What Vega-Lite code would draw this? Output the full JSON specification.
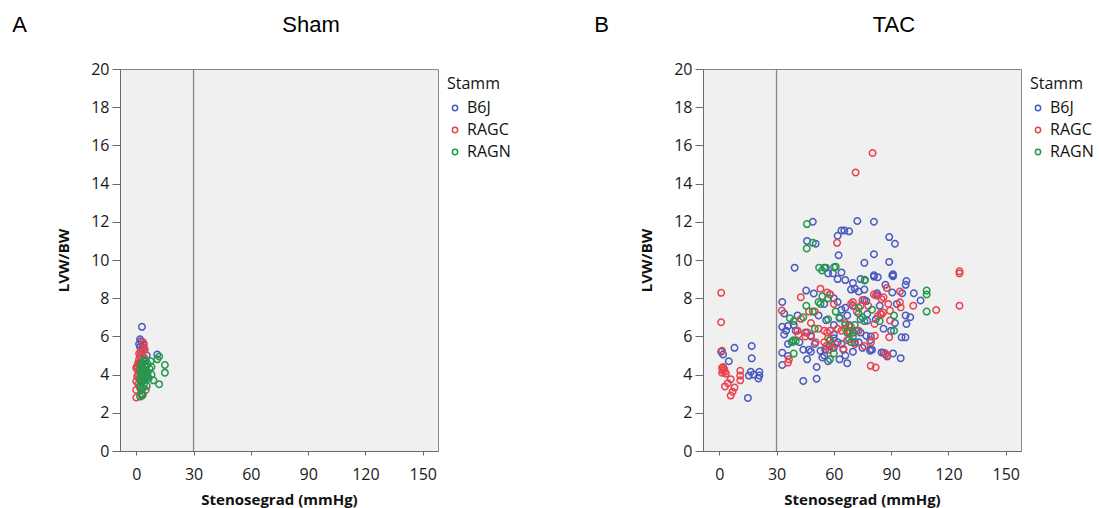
{
  "$schema": "https://vega.github.io/schema/vega-lite/v6.json",
  "background": "white",
  "padding": {"left": 12, "top": 13, "right": 5, "bottom": 0},
  "config": {
    "font": "Open Sans",
    "view": {"fill": "#f0f0f0", "stroke": "#8a8a8a", "strokeWidth": 1},
    "axis": {
      "grid": false,
      "domainColor": "#6a6a6a",
      "tickColor": "#6a6a6a",
      "labelFont": "Open Sans",
      "labelFontSize": 16,
      "labelColor": "#1a1a1a",
      "titleFont": "Open Sans",
      "titleFontSize": 15,
      "titleFontWeight": "bold",
      "titleColor": "#111111"
    },
    "axisX": {"tickSize": 4, "labelPadding": 11, "titlePadding": 10},
    "axisY": {"tickSize": 8, "labelPadding": 3, "titlePadding": 19},
    "legend": {
      "titleFont": "Open Sans",
      "titleFontWeight": "normal",
      "titleFontSize": 16,
      "titleColor": "#111111",
      "labelFont": "Open Sans",
      "labelFontSize": 16,
      "labelColor": "#111111",
      "symbolType": "circle",
      "symbolSize": 28,
      "symbolStrokeWidth": 1.5,
      "rowPadding": 6,
      "titlePadding": 8,
      "padding": 7,
      "offset": 1
    },
    "title": {"font": "Liberation Sans", "fontSize": 22, "fontWeight": "normal", "color": "#000000", "offset": 24}
  },
  "datasets": {
    "sham": [
      {"Stamm": "B6J", "Stenosegrad": 3, "LVW_BW": 6.5},
      {"Stamm": "B6J", "Stenosegrad": 2, "LVW_BW": 5.85},
      {"Stamm": "B6J", "Stenosegrad": 2.5, "LVW_BW": 5.75},
      {"Stamm": "B6J", "Stenosegrad": 1.5, "LVW_BW": 5.6},
      {"Stamm": "B6J", "Stenosegrad": 3.5, "LVW_BW": 5.55},
      {"Stamm": "B6J", "Stenosegrad": 2, "LVW_BW": 5.45},
      {"Stamm": "B6J", "Stenosegrad": 4, "LVW_BW": 5.4},
      {"Stamm": "B6J", "Stenosegrad": 11, "LVW_BW": 5.05},
      {"Stamm": "B6J", "Stenosegrad": 3, "LVW_BW": 5.3},
      {"Stamm": "B6J", "Stenosegrad": 2.5, "LVW_BW": 4.9},
      {"Stamm": "B6J", "Stenosegrad": 4.5, "LVW_BW": 4.7},
      {"Stamm": "B6J", "Stenosegrad": 5, "LVW_BW": 4.4},
      {"Stamm": "B6J", "Stenosegrad": 3, "LVW_BW": 4.2},
      {"Stamm": "B6J", "Stenosegrad": 6, "LVW_BW": 3.9},
      {"Stamm": "B6J", "Stenosegrad": 4, "LVW_BW": 3.7},
      {"Stamm": "B6J", "Stenosegrad": 2, "LVW_BW": 4.6},
      {"Stamm": "B6J", "Stenosegrad": 5.5, "LVW_BW": 5.0},
      {"Stamm": "RAGC", "Stenosegrad": 0, "LVW_BW": 2.8},
      {"Stamm": "RAGC", "Stenosegrad": 0, "LVW_BW": 3.2},
      {"Stamm": "RAGC", "Stenosegrad": 0, "LVW_BW": 3.65},
      {"Stamm": "RAGC", "Stenosegrad": 0.5, "LVW_BW": 3.9},
      {"Stamm": "RAGC", "Stenosegrad": 1, "LVW_BW": 4.2},
      {"Stamm": "RAGC", "Stenosegrad": 0, "LVW_BW": 4.35},
      {"Stamm": "RAGC", "Stenosegrad": 0.5, "LVW_BW": 4.45},
      {"Stamm": "RAGC", "Stenosegrad": 1, "LVW_BW": 4.6},
      {"Stamm": "RAGC", "Stenosegrad": 1.5, "LVW_BW": 4.8},
      {"Stamm": "RAGC", "Stenosegrad": 2, "LVW_BW": 5.0},
      {"Stamm": "RAGC", "Stenosegrad": 1.5, "LVW_BW": 5.1},
      {"Stamm": "RAGC", "Stenosegrad": 2.5, "LVW_BW": 5.2},
      {"Stamm": "RAGC", "Stenosegrad": 3.5, "LVW_BW": 5.25},
      {"Stamm": "RAGC", "Stenosegrad": 4.5, "LVW_BW": 5.3},
      {"Stamm": "RAGC", "Stenosegrad": 4, "LVW_BW": 5.6},
      {"Stamm": "RAGC", "Stenosegrad": 3.5, "LVW_BW": 5.7},
      {"Stamm": "RAGC", "Stenosegrad": 2, "LVW_BW": 4.1},
      {"Stamm": "RAGC", "Stenosegrad": 1, "LVW_BW": 3.5},
      {"Stamm": "RAGC", "Stenosegrad": 2, "LVW_BW": 3.3},
      {"Stamm": "RAGC", "Stenosegrad": 3, "LVW_BW": 3.0},
      {"Stamm": "RAGC", "Stenosegrad": 2.5, "LVW_BW": 3.6},
      {"Stamm": "RAGC", "Stenosegrad": 1.5, "LVW_BW": 3.8},
      {"Stamm": "RAGC", "Stenosegrad": 3, "LVW_BW": 4.4},
      {"Stamm": "RAGC", "Stenosegrad": 4, "LVW_BW": 4.9},
      {"Stamm": "RAGC", "Stenosegrad": 2.5, "LVW_BW": 4.5},
      {"Stamm": "RAGC", "Stenosegrad": 5, "LVW_BW": 3.2},
      {"Stamm": "RAGC", "Stenosegrad": 0.5, "LVW_BW": 4.3},
      {"Stamm": "RAGC", "Stenosegrad": 1, "LVW_BW": 4.0},
      {"Stamm": "RAGC", "Stenosegrad": 3, "LVW_BW": 2.9},
      {"Stamm": "RAGC", "Stenosegrad": 1.5, "LVW_BW": 4.5},
      {"Stamm": "RAGN", "Stenosegrad": 2, "LVW_BW": 2.85},
      {"Stamm": "RAGN", "Stenosegrad": 3, "LVW_BW": 3.0},
      {"Stamm": "RAGN", "Stenosegrad": 2.5, "LVW_BW": 3.2},
      {"Stamm": "RAGN", "Stenosegrad": 3.5, "LVW_BW": 3.3},
      {"Stamm": "RAGN", "Stenosegrad": 2, "LVW_BW": 3.4},
      {"Stamm": "RAGN", "Stenosegrad": 4, "LVW_BW": 3.5},
      {"Stamm": "RAGN", "Stenosegrad": 3, "LVW_BW": 3.6},
      {"Stamm": "RAGN", "Stenosegrad": 2, "LVW_BW": 3.7},
      {"Stamm": "RAGN", "Stenosegrad": 4.5, "LVW_BW": 3.75},
      {"Stamm": "RAGN", "Stenosegrad": 3, "LVW_BW": 3.85},
      {"Stamm": "RAGN", "Stenosegrad": 5, "LVW_BW": 3.9},
      {"Stamm": "RAGN", "Stenosegrad": 2.5, "LVW_BW": 4.0},
      {"Stamm": "RAGN", "Stenosegrad": 4, "LVW_BW": 4.05},
      {"Stamm": "RAGN", "Stenosegrad": 6, "LVW_BW": 4.1},
      {"Stamm": "RAGN", "Stenosegrad": 3, "LVW_BW": 4.15},
      {"Stamm": "RAGN", "Stenosegrad": 5, "LVW_BW": 4.2},
      {"Stamm": "RAGN", "Stenosegrad": 2, "LVW_BW": 4.25},
      {"Stamm": "RAGN", "Stenosegrad": 7, "LVW_BW": 4.3},
      {"Stamm": "RAGN", "Stenosegrad": 3.5, "LVW_BW": 4.35},
      {"Stamm": "RAGN", "Stenosegrad": 8, "LVW_BW": 4.4},
      {"Stamm": "RAGN", "Stenosegrad": 4.5, "LVW_BW": 4.45},
      {"Stamm": "RAGN", "Stenosegrad": 2.5, "LVW_BW": 4.5},
      {"Stamm": "RAGN", "Stenosegrad": 6, "LVW_BW": 4.55},
      {"Stamm": "RAGN", "Stenosegrad": 3, "LVW_BW": 4.6},
      {"Stamm": "RAGN", "Stenosegrad": 7.5, "LVW_BW": 4.7},
      {"Stamm": "RAGN", "Stenosegrad": 5, "LVW_BW": 4.75},
      {"Stamm": "RAGN", "Stenosegrad": 4, "LVW_BW": 4.8},
      {"Stamm": "RAGN", "Stenosegrad": 9, "LVW_BW": 3.7},
      {"Stamm": "RAGN", "Stenosegrad": 12, "LVW_BW": 3.5},
      {"Stamm": "RAGN", "Stenosegrad": 12, "LVW_BW": 4.95},
      {"Stamm": "RAGN", "Stenosegrad": 11, "LVW_BW": 4.8},
      {"Stamm": "RAGN", "Stenosegrad": 15, "LVW_BW": 4.5},
      {"Stamm": "RAGN", "Stenosegrad": 15, "LVW_BW": 4.1},
      {"Stamm": "RAGN", "Stenosegrad": 6.5, "LVW_BW": 3.8},
      {"Stamm": "RAGN", "Stenosegrad": 8, "LVW_BW": 4.0},
      {"Stamm": "RAGN", "Stenosegrad": 3.5, "LVW_BW": 2.95},
      {"Stamm": "RAGN", "Stenosegrad": 5.5, "LVW_BW": 3.4}
    ],
    "tac": [
      {"Stamm": "B6J", "Stenosegrad": 1, "LVW_BW": 5.2},
      {"Stamm": "B6J", "Stenosegrad": 2, "LVW_BW": 5.05},
      {"Stamm": "B6J", "Stenosegrad": 8, "LVW_BW": 5.4},
      {"Stamm": "B6J", "Stenosegrad": 17, "LVW_BW": 5.5},
      {"Stamm": "B6J", "Stenosegrad": 17, "LVW_BW": 4.85},
      {"Stamm": "B6J", "Stenosegrad": 5, "LVW_BW": 4.7},
      {"Stamm": "B6J", "Stenosegrad": 16.5, "LVW_BW": 4.15},
      {"Stamm": "B6J", "Stenosegrad": 15.5, "LVW_BW": 3.95},
      {"Stamm": "B6J", "Stenosegrad": 21, "LVW_BW": 4.15},
      {"Stamm": "B6J", "Stenosegrad": 21, "LVW_BW": 3.95},
      {"Stamm": "B6J", "Stenosegrad": 20.5, "LVW_BW": 3.8},
      {"Stamm": "B6J", "Stenosegrad": 15, "LVW_BW": 2.78},
      {"Stamm": "B6J", "Stenosegrad": 18, "LVW_BW": 4.0},
      {"Stamm": "B6J", "Stenosegrad": 33, "LVW_BW": 7.8},
      {"Stamm": "B6J", "Stenosegrad": 33, "LVW_BW": 6.5},
      {"Stamm": "B6J", "Stenosegrad": 34, "LVW_BW": 6.1},
      {"Stamm": "B6J", "Stenosegrad": 35, "LVW_BW": 6.3},
      {"Stamm": "B6J", "Stenosegrad": 36, "LVW_BW": 6.55},
      {"Stamm": "B6J", "Stenosegrad": 33, "LVW_BW": 5.15},
      {"Stamm": "B6J", "Stenosegrad": 36, "LVW_BW": 4.98},
      {"Stamm": "B6J", "Stenosegrad": 33, "LVW_BW": 4.5},
      {"Stamm": "B6J", "Stenosegrad": 34, "LVW_BW": 7.2},
      {"Stamm": "B6J", "Stenosegrad": 39.5, "LVW_BW": 9.6},
      {"Stamm": "B6J", "Stenosegrad": 45.5, "LVW_BW": 8.4},
      {"Stamm": "B6J", "Stenosegrad": 49.5, "LVW_BW": 8.25},
      {"Stamm": "B6J", "Stenosegrad": 46, "LVW_BW": 11.0},
      {"Stamm": "B6J", "Stenosegrad": 49, "LVW_BW": 12.0},
      {"Stamm": "B6J", "Stenosegrad": 50.5, "LVW_BW": 10.85},
      {"Stamm": "B6J", "Stenosegrad": 44, "LVW_BW": 3.67},
      {"Stamm": "B6J", "Stenosegrad": 51, "LVW_BW": 3.78},
      {"Stamm": "B6J", "Stenosegrad": 62.5, "LVW_BW": 10.25},
      {"Stamm": "B6J", "Stenosegrad": 64, "LVW_BW": 11.55},
      {"Stamm": "B6J", "Stenosegrad": 62, "LVW_BW": 11.27},
      {"Stamm": "B6J", "Stenosegrad": 65.5, "LVW_BW": 11.55},
      {"Stamm": "B6J", "Stenosegrad": 68, "LVW_BW": 11.5},
      {"Stamm": "B6J", "Stenosegrad": 72.3, "LVW_BW": 12.04},
      {"Stamm": "B6J", "Stenosegrad": 81, "LVW_BW": 12.0},
      {"Stamm": "B6J", "Stenosegrad": 89, "LVW_BW": 11.2},
      {"Stamm": "B6J", "Stenosegrad": 92, "LVW_BW": 10.85},
      {"Stamm": "B6J", "Stenosegrad": 81, "LVW_BW": 10.3},
      {"Stamm": "B6J", "Stenosegrad": 76, "LVW_BW": 9.85},
      {"Stamm": "B6J", "Stenosegrad": 89, "LVW_BW": 9.9},
      {"Stamm": "B6J", "Stenosegrad": 81, "LVW_BW": 9.2},
      {"Stamm": "B6J", "Stenosegrad": 91, "LVW_BW": 9.25},
      {"Stamm": "B6J", "Stenosegrad": 57, "LVW_BW": 9.3},
      {"Stamm": "B6J", "Stenosegrad": 59.5, "LVW_BW": 9.3},
      {"Stamm": "B6J", "Stenosegrad": 62, "LVW_BW": 9.0},
      {"Stamm": "B6J", "Stenosegrad": 64, "LVW_BW": 9.35},
      {"Stamm": "B6J", "Stenosegrad": 66, "LVW_BW": 8.95},
      {"Stamm": "B6J", "Stenosegrad": 55.8, "LVW_BW": 9.6},
      {"Stamm": "B6J", "Stenosegrad": 69, "LVW_BW": 8.45},
      {"Stamm": "B6J", "Stenosegrad": 71, "LVW_BW": 8.5},
      {"Stamm": "B6J", "Stenosegrad": 73, "LVW_BW": 8.35},
      {"Stamm": "B6J", "Stenosegrad": 76, "LVW_BW": 8.45},
      {"Stamm": "B6J", "Stenosegrad": 76, "LVW_BW": 7.9},
      {"Stamm": "B6J", "Stenosegrad": 77, "LVW_BW": 7.85},
      {"Stamm": "B6J", "Stenosegrad": 81, "LVW_BW": 9.13},
      {"Stamm": "B6J", "Stenosegrad": 90.6, "LVW_BW": 9.2},
      {"Stamm": "B6J", "Stenosegrad": 91, "LVW_BW": 9.15},
      {"Stamm": "B6J", "Stenosegrad": 97.6, "LVW_BW": 8.7},
      {"Stamm": "B6J", "Stenosegrad": 98, "LVW_BW": 8.9},
      {"Stamm": "B6J", "Stenosegrad": 90.6, "LVW_BW": 8.3},
      {"Stamm": "B6J", "Stenosegrad": 95.8, "LVW_BW": 8.26},
      {"Stamm": "B6J", "Stenosegrad": 82.6, "LVW_BW": 8.26},
      {"Stamm": "B6J", "Stenosegrad": 83, "LVW_BW": 8.14},
      {"Stamm": "B6J", "Stenosegrad": 101.9, "LVW_BW": 8.26},
      {"Stamm": "B6J", "Stenosegrad": 105.4, "LVW_BW": 7.88},
      {"Stamm": "B6J", "Stenosegrad": 97.6, "LVW_BW": 7.1},
      {"Stamm": "B6J", "Stenosegrad": 98, "LVW_BW": 6.65},
      {"Stamm": "B6J", "Stenosegrad": 92, "LVW_BW": 6.7},
      {"Stamm": "B6J", "Stenosegrad": 95.5, "LVW_BW": 5.95},
      {"Stamm": "B6J", "Stenosegrad": 97.5, "LVW_BW": 5.95},
      {"Stamm": "B6J", "Stenosegrad": 79.4, "LVW_BW": 6.0},
      {"Stamm": "B6J", "Stenosegrad": 79.4, "LVW_BW": 5.33},
      {"Stamm": "B6J", "Stenosegrad": 79, "LVW_BW": 5.25},
      {"Stamm": "B6J", "Stenosegrad": 85, "LVW_BW": 5.16},
      {"Stamm": "B6J", "Stenosegrad": 87, "LVW_BW": 5.07},
      {"Stamm": "B6J", "Stenosegrad": 91, "LVW_BW": 5.11},
      {"Stamm": "B6J", "Stenosegrad": 95, "LVW_BW": 4.86},
      {"Stamm": "B6J", "Stenosegrad": 77.5, "LVW_BW": 7.17},
      {"Stamm": "B6J", "Stenosegrad": 77.5, "LVW_BW": 6.82},
      {"Stamm": "B6J", "Stenosegrad": 77, "LVW_BW": 6.04},
      {"Stamm": "B6J", "Stenosegrad": 55, "LVW_BW": 7.7},
      {"Stamm": "B6J", "Stenosegrad": 62, "LVW_BW": 7.8},
      {"Stamm": "B6J", "Stenosegrad": 66, "LVW_BW": 7.5},
      {"Stamm": "B6J", "Stenosegrad": 70, "LVW_BW": 7.6},
      {"Stamm": "B6J", "Stenosegrad": 56, "LVW_BW": 6.85},
      {"Stamm": "B6J", "Stenosegrad": 60, "LVW_BW": 6.6},
      {"Stamm": "B6J", "Stenosegrad": 63, "LVW_BW": 6.95},
      {"Stamm": "B6J", "Stenosegrad": 67, "LVW_BW": 7.1},
      {"Stamm": "B6J", "Stenosegrad": 42, "LVW_BW": 5.7},
      {"Stamm": "B6J", "Stenosegrad": 44, "LVW_BW": 5.3},
      {"Stamm": "B6J", "Stenosegrad": 47, "LVW_BW": 5.3},
      {"Stamm": "B6J", "Stenosegrad": 50, "LVW_BW": 5.6},
      {"Stamm": "B6J", "Stenosegrad": 53, "LVW_BW": 5.25},
      {"Stamm": "B6J", "Stenosegrad": 55.5, "LVW_BW": 5.3},
      {"Stamm": "B6J", "Stenosegrad": 60, "LVW_BW": 5.9},
      {"Stamm": "B6J", "Stenosegrad": 62, "LVW_BW": 5.7},
      {"Stamm": "B6J", "Stenosegrad": 64, "LVW_BW": 5.6},
      {"Stamm": "B6J", "Stenosegrad": 65, "LVW_BW": 5.3},
      {"Stamm": "B6J", "Stenosegrad": 66, "LVW_BW": 5.0},
      {"Stamm": "B6J", "Stenosegrad": 67, "LVW_BW": 4.6},
      {"Stamm": "B6J", "Stenosegrad": 63, "LVW_BW": 4.8},
      {"Stamm": "B6J", "Stenosegrad": 60, "LVW_BW": 5.4},
      {"Stamm": "B6J", "Stenosegrad": 68, "LVW_BW": 5.85},
      {"Stamm": "B6J", "Stenosegrad": 71, "LVW_BW": 5.7},
      {"Stamm": "B6J", "Stenosegrad": 73, "LVW_BW": 5.7},
      {"Stamm": "B6J", "Stenosegrad": 72, "LVW_BW": 6.3},
      {"Stamm": "B6J", "Stenosegrad": 74, "LVW_BW": 6.2},
      {"Stamm": "B6J", "Stenosegrad": 79, "LVW_BW": 5.8},
      {"Stamm": "B6J", "Stenosegrad": 80, "LVW_BW": 5.3},
      {"Stamm": "B6J", "Stenosegrad": 86, "LVW_BW": 5.15},
      {"Stamm": "B6J", "Stenosegrad": 88, "LVW_BW": 4.95},
      {"Stamm": "B6J", "Stenosegrad": 51, "LVW_BW": 4.4},
      {"Stamm": "B6J", "Stenosegrad": 54, "LVW_BW": 4.9},
      {"Stamm": "B6J", "Stenosegrad": 55, "LVW_BW": 5.0},
      {"Stamm": "B6J", "Stenosegrad": 58, "LVW_BW": 5.5},
      {"Stamm": "B6J", "Stenosegrad": 48, "LVW_BW": 6.0},
      {"Stamm": "B6J", "Stenosegrad": 46, "LVW_BW": 6.2},
      {"Stamm": "B6J", "Stenosegrad": 40, "LVW_BW": 6.3},
      {"Stamm": "B6J", "Stenosegrad": 60, "LVW_BW": 8.0},
      {"Stamm": "B6J", "Stenosegrad": 64, "LVW_BW": 7.4},
      {"Stamm": "B6J", "Stenosegrad": 68, "LVW_BW": 6.6},
      {"Stamm": "B6J", "Stenosegrad": 70, "LVW_BW": 5.2},
      {"Stamm": "B6J", "Stenosegrad": 57, "LVW_BW": 4.7},
      {"Stamm": "B6J", "Stenosegrad": 60, "LVW_BW": 6.1},
      {"Stamm": "B6J", "Stenosegrad": 84, "LVW_BW": 7.6},
      {"Stamm": "B6J", "Stenosegrad": 86, "LVW_BW": 6.4},
      {"Stamm": "B6J", "Stenosegrad": 90, "LVW_BW": 6.3},
      {"Stamm": "B6J", "Stenosegrad": 82, "LVW_BW": 6.9},
      {"Stamm": "B6J", "Stenosegrad": 100, "LVW_BW": 7.0},
      {"Stamm": "B6J", "Stenosegrad": 93, "LVW_BW": 7.7},
      {"Stamm": "B6J", "Stenosegrad": 87, "LVW_BW": 8.7},
      {"Stamm": "B6J", "Stenosegrad": 83, "LVW_BW": 9.1},
      {"Stamm": "B6J", "Stenosegrad": 74, "LVW_BW": 9.0},
      {"Stamm": "B6J", "Stenosegrad": 70, "LVW_BW": 8.8},
      {"Stamm": "B6J", "Stenosegrad": 58, "LVW_BW": 8.2},
      {"Stamm": "B6J", "Stenosegrad": 52, "LVW_BW": 7.1},
      {"Stamm": "B6J", "Stenosegrad": 41, "LVW_BW": 7.1},
      {"Stamm": "B6J", "Stenosegrad": 38, "LVW_BW": 5.7},
      {"Stamm": "B6J", "Stenosegrad": 46, "LVW_BW": 4.8},
      {"Stamm": "B6J", "Stenosegrad": 48, "LVW_BW": 5.2},
      {"Stamm": "B6J", "Stenosegrad": 36, "LVW_BW": 5.6},
      {"Stamm": "B6J", "Stenosegrad": 39, "LVW_BW": 6.6},
      {"Stamm": "B6J", "Stenosegrad": 74, "LVW_BW": 6.9},
      {"Stamm": "B6J", "Stenosegrad": 75, "LVW_BW": 5.4},
      {"Stamm": "RAGC", "Stenosegrad": 1, "LVW_BW": 8.28},
      {"Stamm": "RAGC", "Stenosegrad": 1, "LVW_BW": 6.74},
      {"Stamm": "RAGC", "Stenosegrad": 1.5, "LVW_BW": 5.25},
      {"Stamm": "RAGC", "Stenosegrad": 1.5, "LVW_BW": 4.35},
      {"Stamm": "RAGC", "Stenosegrad": 2, "LVW_BW": 4.2},
      {"Stamm": "RAGC", "Stenosegrad": 2.5, "LVW_BW": 4.3},
      {"Stamm": "RAGC", "Stenosegrad": 3, "LVW_BW": 4.15},
      {"Stamm": "RAGC", "Stenosegrad": 1.5, "LVW_BW": 4.1},
      {"Stamm": "RAGC", "Stenosegrad": 2, "LVW_BW": 4.4},
      {"Stamm": "RAGC", "Stenosegrad": 3.5, "LVW_BW": 4.05},
      {"Stamm": "RAGC", "Stenosegrad": 11, "LVW_BW": 4.2},
      {"Stamm": "RAGC", "Stenosegrad": 11, "LVW_BW": 3.95},
      {"Stamm": "RAGC", "Stenosegrad": 11, "LVW_BW": 3.7},
      {"Stamm": "RAGC", "Stenosegrad": 6, "LVW_BW": 3.76},
      {"Stamm": "RAGC", "Stenosegrad": 4.5, "LVW_BW": 3.55},
      {"Stamm": "RAGC", "Stenosegrad": 3, "LVW_BW": 3.38},
      {"Stamm": "RAGC", "Stenosegrad": 8, "LVW_BW": 3.32},
      {"Stamm": "RAGC", "Stenosegrad": 7, "LVW_BW": 3.1},
      {"Stamm": "RAGC", "Stenosegrad": 6, "LVW_BW": 2.9},
      {"Stamm": "RAGC", "Stenosegrad": 80.3, "LVW_BW": 15.6},
      {"Stamm": "RAGC", "Stenosegrad": 71.4, "LVW_BW": 14.58},
      {"Stamm": "RAGC", "Stenosegrad": 61.7, "LVW_BW": 10.9},
      {"Stamm": "RAGC", "Stenosegrad": 125.8, "LVW_BW": 9.41},
      {"Stamm": "RAGC", "Stenosegrad": 125.8, "LVW_BW": 9.3},
      {"Stamm": "RAGC", "Stenosegrad": 125.8, "LVW_BW": 7.61},
      {"Stamm": "RAGC", "Stenosegrad": 113.6, "LVW_BW": 7.38},
      {"Stamm": "RAGC", "Stenosegrad": 101.6, "LVW_BW": 7.61},
      {"Stamm": "RAGC", "Stenosegrad": 94.6, "LVW_BW": 8.35},
      {"Stamm": "RAGC", "Stenosegrad": 94.6, "LVW_BW": 7.79},
      {"Stamm": "RAGC", "Stenosegrad": 95, "LVW_BW": 7.52},
      {"Stamm": "RAGC", "Stenosegrad": 87.7, "LVW_BW": 8.54},
      {"Stamm": "RAGC", "Stenosegrad": 81, "LVW_BW": 8.2},
      {"Stamm": "RAGC", "Stenosegrad": 82, "LVW_BW": 8.15},
      {"Stamm": "RAGC", "Stenosegrad": 86, "LVW_BW": 8.05},
      {"Stamm": "RAGC", "Stenosegrad": 85, "LVW_BW": 7.95},
      {"Stamm": "RAGC", "Stenosegrad": 84.4, "LVW_BW": 7.2},
      {"Stamm": "RAGC", "Stenosegrad": 85.8, "LVW_BW": 7.25},
      {"Stamm": "RAGC", "Stenosegrad": 85, "LVW_BW": 7.15},
      {"Stamm": "RAGC", "Stenosegrad": 89.4, "LVW_BW": 7.35},
      {"Stamm": "RAGC", "Stenosegrad": 89.4, "LVW_BW": 6.83},
      {"Stamm": "RAGC", "Stenosegrad": 89, "LVW_BW": 5.96},
      {"Stamm": "RAGC", "Stenosegrad": 81.3, "LVW_BW": 6.65},
      {"Stamm": "RAGC", "Stenosegrad": 81.5, "LVW_BW": 6.03},
      {"Stamm": "RAGC", "Stenosegrad": 79.5, "LVW_BW": 5.7},
      {"Stamm": "RAGC", "Stenosegrad": 79.3, "LVW_BW": 4.46},
      {"Stamm": "RAGC", "Stenosegrad": 81.9, "LVW_BW": 4.37},
      {"Stamm": "RAGC", "Stenosegrad": 88, "LVW_BW": 5.0},
      {"Stamm": "RAGC", "Stenosegrad": 87, "LVW_BW": 5.1},
      {"Stamm": "RAGC", "Stenosegrad": 42.7, "LVW_BW": 8.05},
      {"Stamm": "RAGC", "Stenosegrad": 32.8, "LVW_BW": 7.35},
      {"Stamm": "RAGC", "Stenosegrad": 36, "LVW_BW": 4.63},
      {"Stamm": "RAGC", "Stenosegrad": 36.5, "LVW_BW": 4.8},
      {"Stamm": "RAGC", "Stenosegrad": 42.8, "LVW_BW": 6.92},
      {"Stamm": "RAGC", "Stenosegrad": 41, "LVW_BW": 6.3},
      {"Stamm": "RAGC", "Stenosegrad": 41.5, "LVW_BW": 6.1},
      {"Stamm": "RAGC", "Stenosegrad": 45, "LVW_BW": 6.0},
      {"Stamm": "RAGC", "Stenosegrad": 45, "LVW_BW": 6.2},
      {"Stamm": "RAGC", "Stenosegrad": 48, "LVW_BW": 6.05},
      {"Stamm": "RAGC", "Stenosegrad": 53, "LVW_BW": 8.5},
      {"Stamm": "RAGC", "Stenosegrad": 56.5, "LVW_BW": 8.3},
      {"Stamm": "RAGC", "Stenosegrad": 58, "LVW_BW": 8.2},
      {"Stamm": "RAGC", "Stenosegrad": 50, "LVW_BW": 7.3},
      {"Stamm": "RAGC", "Stenosegrad": 47, "LVW_BW": 7.3},
      {"Stamm": "RAGC", "Stenosegrad": 70, "LVW_BW": 7.8},
      {"Stamm": "RAGC", "Stenosegrad": 69, "LVW_BW": 7.7},
      {"Stamm": "RAGC", "Stenosegrad": 52, "LVW_BW": 6.4},
      {"Stamm": "RAGC", "Stenosegrad": 55, "LVW_BW": 6.3},
      {"Stamm": "RAGC", "Stenosegrad": 56.5, "LVW_BW": 6.2},
      {"Stamm": "RAGC", "Stenosegrad": 58, "LVW_BW": 6.3},
      {"Stamm": "RAGC", "Stenosegrad": 57, "LVW_BW": 5.9},
      {"Stamm": "RAGC", "Stenosegrad": 55, "LVW_BW": 5.7},
      {"Stamm": "RAGC", "Stenosegrad": 56, "LVW_BW": 5.5},
      {"Stamm": "RAGC", "Stenosegrad": 57.5, "LVW_BW": 5.3},
      {"Stamm": "RAGC", "Stenosegrad": 59, "LVW_BW": 5.4},
      {"Stamm": "RAGC", "Stenosegrad": 64, "LVW_BW": 6.3},
      {"Stamm": "RAGC", "Stenosegrad": 66, "LVW_BW": 6.4},
      {"Stamm": "RAGC", "Stenosegrad": 68, "LVW_BW": 6.3},
      {"Stamm": "RAGC", "Stenosegrad": 69, "LVW_BW": 6.5},
      {"Stamm": "RAGC", "Stenosegrad": 67, "LVW_BW": 5.8},
      {"Stamm": "RAGC", "Stenosegrad": 71, "LVW_BW": 5.6},
      {"Stamm": "RAGC", "Stenosegrad": 76, "LVW_BW": 5.5},
      {"Stamm": "RAGC", "Stenosegrad": 73, "LVW_BW": 6.3},
      {"Stamm": "RAGC", "Stenosegrad": 66, "LVW_BW": 6.7},
      {"Stamm": "RAGC", "Stenosegrad": 68, "LVW_BW": 6.2},
      {"Stamm": "RAGC", "Stenosegrad": 60, "LVW_BW": 7.7},
      {"Stamm": "RAGC", "Stenosegrad": 62, "LVW_BW": 6.4},
      {"Stamm": "RAGC", "Stenosegrad": 75, "LVW_BW": 7.9},
      {"Stamm": "RAGC", "Stenosegrad": 78, "LVW_BW": 7.6},
      {"Stamm": "RAGC", "Stenosegrad": 88.5, "LVW_BW": 7.7},
      {"Stamm": "RAGC", "Stenosegrad": 83, "LVW_BW": 7.05},
      {"Stamm": "RAGC", "Stenosegrad": 72, "LVW_BW": 7.3},
      {"Stamm": "RAGC", "Stenosegrad": 74, "LVW_BW": 7.6},
      {"Stamm": "RAGC", "Stenosegrad": 67.5, "LVW_BW": 6.3},
      {"Stamm": "RAGC", "Stenosegrad": 70, "LVW_BW": 6.2},
      {"Stamm": "RAGC", "Stenosegrad": 61, "LVW_BW": 5.6},
      {"Stamm": "RAGC", "Stenosegrad": 65, "LVW_BW": 5.35},
      {"Stamm": "RAGC", "Stenosegrad": 50.5, "LVW_BW": 5.7},
      {"Stamm": "RAGC", "Stenosegrad": 48, "LVW_BW": 6.7},
      {"Stamm": "RAGC", "Stenosegrad": 58, "LVW_BW": 5.8},
      {"Stamm": "RAGN", "Stenosegrad": 45.9, "LVW_BW": 11.88},
      {"Stamm": "RAGN", "Stenosegrad": 49, "LVW_BW": 10.9},
      {"Stamm": "RAGN", "Stenosegrad": 45.8, "LVW_BW": 10.6},
      {"Stamm": "RAGN", "Stenosegrad": 52.3, "LVW_BW": 9.6},
      {"Stamm": "RAGN", "Stenosegrad": 53.8, "LVW_BW": 9.45},
      {"Stamm": "RAGN", "Stenosegrad": 55, "LVW_BW": 9.6},
      {"Stamm": "RAGN", "Stenosegrad": 60.1, "LVW_BW": 9.62},
      {"Stamm": "RAGN", "Stenosegrad": 61, "LVW_BW": 9.65},
      {"Stamm": "RAGN", "Stenosegrad": 76.1, "LVW_BW": 8.93},
      {"Stamm": "RAGN", "Stenosegrad": 76.3, "LVW_BW": 8.96},
      {"Stamm": "RAGN", "Stenosegrad": 54, "LVW_BW": 8.1},
      {"Stamm": "RAGN", "Stenosegrad": 57, "LVW_BW": 8.0},
      {"Stamm": "RAGN", "Stenosegrad": 45.6, "LVW_BW": 7.6},
      {"Stamm": "RAGN", "Stenosegrad": 49, "LVW_BW": 7.3},
      {"Stamm": "RAGN", "Stenosegrad": 52, "LVW_BW": 7.8},
      {"Stamm": "RAGN", "Stenosegrad": 53, "LVW_BW": 7.7},
      {"Stamm": "RAGN", "Stenosegrad": 73, "LVW_BW": 7.2},
      {"Stamm": "RAGN", "Stenosegrad": 75, "LVW_BW": 7.0},
      {"Stamm": "RAGN", "Stenosegrad": 76, "LVW_BW": 6.8},
      {"Stamm": "RAGN", "Stenosegrad": 37, "LVW_BW": 6.95},
      {"Stamm": "RAGN", "Stenosegrad": 39, "LVW_BW": 6.8},
      {"Stamm": "RAGN", "Stenosegrad": 38.8, "LVW_BW": 5.8},
      {"Stamm": "RAGN", "Stenosegrad": 38, "LVW_BW": 5.7},
      {"Stamm": "RAGN", "Stenosegrad": 40, "LVW_BW": 5.75},
      {"Stamm": "RAGN", "Stenosegrad": 39, "LVW_BW": 5.1},
      {"Stamm": "RAGN", "Stenosegrad": 58, "LVW_BW": 5.8},
      {"Stamm": "RAGN", "Stenosegrad": 58, "LVW_BW": 4.8},
      {"Stamm": "RAGN", "Stenosegrad": 67, "LVW_BW": 6.2},
      {"Stamm": "RAGN", "Stenosegrad": 70, "LVW_BW": 6.2},
      {"Stamm": "RAGN", "Stenosegrad": 71, "LVW_BW": 6.6},
      {"Stamm": "RAGN", "Stenosegrad": 66, "LVW_BW": 6.6},
      {"Stamm": "RAGN", "Stenosegrad": 73, "LVW_BW": 7.5},
      {"Stamm": "RAGN", "Stenosegrad": 63, "LVW_BW": 7.0},
      {"Stamm": "RAGN", "Stenosegrad": 61, "LVW_BW": 7.3},
      {"Stamm": "RAGN", "Stenosegrad": 108.6, "LVW_BW": 8.4},
      {"Stamm": "RAGN", "Stenosegrad": 108.6, "LVW_BW": 8.2},
      {"Stamm": "RAGN", "Stenosegrad": 108.6, "LVW_BW": 7.3},
      {"Stamm": "RAGN", "Stenosegrad": 91.5, "LVW_BW": 7.1},
      {"Stamm": "RAGN", "Stenosegrad": 91.5, "LVW_BW": 6.3},
      {"Stamm": "RAGN", "Stenosegrad": 69, "LVW_BW": 5.7},
      {"Stamm": "RAGN", "Stenosegrad": 70, "LVW_BW": 6.0},
      {"Stamm": "RAGN", "Stenosegrad": 84, "LVW_BW": 6.8},
      {"Stamm": "RAGN", "Stenosegrad": 80, "LVW_BW": 7.4},
      {"Stamm": "RAGN", "Stenosegrad": 60, "LVW_BW": 5.1},
      {"Stamm": "RAGN", "Stenosegrad": 57, "LVW_BW": 6.9},
      {"Stamm": "RAGN", "Stenosegrad": 44, "LVW_BW": 7.0},
      {"Stamm": "RAGN", "Stenosegrad": 50, "LVW_BW": 6.4}
    ],
    "grenze": [{"Schwelle": 30}]
  },
  "hconcat": [
    {
      "title": {"text": "A", "anchor": "start", "dx": -44, "dy": 23, "offset": 0},
      "hconcat": [
        {
          "title": {"text": "Sham", "anchor": "middle", "dx": 32},
          "width": 318,
          "height": 382,
          "layer": [
            {
              "data": {"name": "grenze"},
              "mark": {"type": "rule", "color": "#878787", "strokeWidth": 1.3},
              "encoding": {
                "x": {"field": "Schwelle", "type": "quantitative", "scale": {"domain": [-8.5, 158], "nice": false, "zero": false}}
              }
            },
            {
              "data": {"name": "sham"},
              "mark": {"type": "point", "filled": false, "size": 42, "strokeWidth": 1.5, "opacity": 1},
              "encoding": {
                "x": {"field": "Stenosegrad", "type": "quantitative", "scale": {"domain": [-8.5, 158], "nice": false, "zero": false}, "axis": {"title": "Stenosegrad (mmHg)", "values": [0, 30, 60, 90, 120, 150]}},
                "y": {"field": "LVW_BW", "type": "quantitative", "scale": {"domain": [0, 20], "nice": false}, "axis": {"title": "LVW/BW", "values": [0, 2, 4, 6, 8, 10, 12, 14, 16, 18, 20]}},
                "color": {"field": "Stamm", "type": "nominal", "scale": {"domain": ["B6J", "RAGC", "RAGN"], "range": ["#4a5abf", "#e8434d", "#23994b"]}, "legend": {"title": "Stamm"}}
              }
            }
          ]
        }
      ]
    },
    {
      "title": {"text": "B", "anchor": "start", "dx": -45, "dy": 23, "offset": 0},
      "hconcat": [
        {
          "title": {"text": "TAC", "anchor": "middle", "dx": 32},
          "width": 318,
          "height": 382,
          "layer": [
            {
              "data": {"name": "grenze"},
              "mark": {"type": "rule", "color": "#878787", "strokeWidth": 1.3},
              "encoding": {
                "x": {"field": "Schwelle", "type": "quantitative", "scale": {"domain": [-8.5, 158], "nice": false, "zero": false}}
              }
            },
            {
              "data": {"name": "tac"},
              "mark": {"type": "point", "filled": false, "size": 42, "strokeWidth": 1.5, "opacity": 1},
              "encoding": {
                "x": {"field": "Stenosegrad", "type": "quantitative", "scale": {"domain": [-8.5, 158], "nice": false, "zero": false}, "axis": {"title": "Stenosegrad (mmHg)", "values": [0, 30, 60, 90, 120, 150]}},
                "y": {"field": "LVW_BW", "type": "quantitative", "scale": {"domain": [0, 20], "nice": false}, "axis": {"title": "LVW/BW", "values": [0, 2, 4, 6, 8, 10, 12, 14, 16, 18, 20]}},
                "color": {"field": "Stamm", "type": "nominal", "scale": {"domain": ["B6J", "RAGC", "RAGN"], "range": ["#4a5abf", "#e8434d", "#23994b"]}, "legend": {"title": "Stamm"}}
              }
            }
          ]
        }
      ]
    }
  ],
  "spacing": 76,
  "resolve": {"scale": {"color": "independent"}, "legend": {"color": "independent"}}
}
